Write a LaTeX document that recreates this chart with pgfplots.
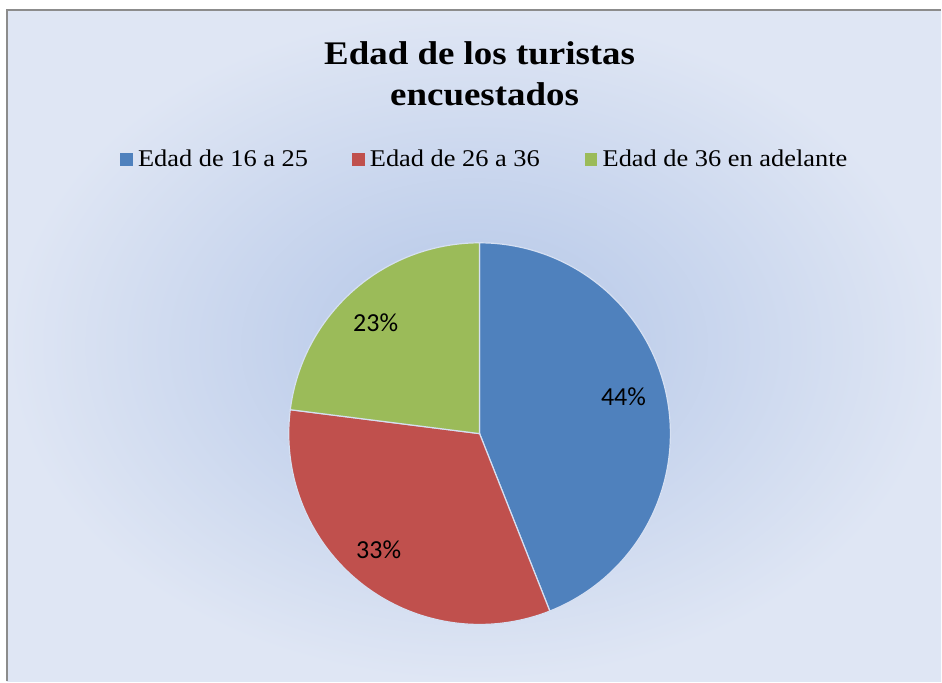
\documentclass[border=0pt]{standalone}
\usepackage{pgfplots}
\pgfplotsset{compat=1.18}
\usepackage{fontspec}
\setmainfont{Liberation Serif}
\newfontfamily\calibri{Carlito}

\definecolor{pblue}{RGB}{79,129,189}
\definecolor{pred}{RGB}{192,80,77}
\definecolor{pgreen}{RGB}{155,187,89}
\definecolor{bgout}{RGB}{223,230,244}
\definecolor{bgin}{RGB}{178,197,231}
\definecolor{edge}{RGB}{214,224,242}
\definecolor{framegray}{RGB}{140,140,140}

% pie data (percent)
\def\va{44}  % Edad de 16 a 25
\def\vb{33}  % Edad de 26 a 36
\def\vc{23}  % Edad de 36 en adelante
\def\cx{480}\def\cy{248}\def\rr{191}

\begin{document}
\begin{tikzpicture}
\pgfmathsetmacro\aA{90}
\pgfmathsetmacro\aB{90-3.6*\va}
\pgfmathsetmacro\aC{\aB-3.6*\vb}
\pgfmathsetmacro\aD{\aC-3.6*\vc}
\begin{axis}[
  scale only axis, width=942pt, height=682pt,
  xmin=0, xmax=942, ymin=0, ymax=682,
  hide axis, clip=false]
\fill[white] (axis cs:0,0) rectangle (axis cs:942,682);
\shade[inner color=bgin, outer color=bgout] (axis cs:7,0) rectangle (axis cs:942,672);
\draw[framegray, line width=1.6pt] (axis cs:7,0) -- (axis cs:7,672) -- (axis cs:942,672);

% title
\node[anchor=base, font=\fontsize{33}{40}\selectfont\bfseries\addfontfeature{FakeStretch=1.12}]
  at (axis cs:480,617) {Edad de los turistas};
\node[anchor=base, font=\fontsize{33}{40}\selectfont\bfseries\addfontfeature{FakeStretch=1.12}]
  at (axis cs:485,576) {encuestados};

% legend
\fill[pblue] (axis cs:120,516) rectangle (axis cs:133,529);
\node[anchor=base west, inner sep=0pt, font=\fontsize{24}{28}\selectfont\addfontfeature{FakeStretch=1.1}]
  at (axis cs:138,515) {Edad de 16 a 25};
\fill[pred] (axis cs:352,516) rectangle (axis cs:365,529);
\node[anchor=base west, inner sep=0pt, font=\fontsize{24}{28}\selectfont\addfontfeature{FakeStretch=1.1}]
  at (axis cs:370,515) {Edad de 26 a 36};
\fill[pgreen] (axis cs:585,516) rectangle (axis cs:598,529);
\node[anchor=base west, inner sep=0pt, font=\fontsize{24}{28}\selectfont\addfontfeature{FakeStretch=1.1}]
  at (axis cs:603,515) {Edad de 36 en adelante};

% wedges
\addplot[fill=pblue, draw=edge, line width=1.2pt, domain=\aB:\aA, samples=100, variable=\t]
  ({\cx+\rr*cos(\t)},{\cy+\rr*sin(\t)}) -- (axis cs:\cx,\cy) -- cycle;
\addplot[fill=pred, draw=edge, line width=1.2pt, domain=\aC:\aB, samples=100, variable=\t]
  ({\cx+\rr*cos(\t)},{\cy+\rr*sin(\t)}) -- (axis cs:\cx,\cy) -- cycle;
\addplot[fill=pgreen, draw=edge, line width=1.2pt, domain=\aD:\aC, samples=80, variable=\t]
  ({\cx+\rr*cos(\t)},{\cy+\rr*sin(\t)}) -- (axis cs:\cx,\cy) -- cycle;

% data labels
\node[font=\calibri\fontsize{26}{26}\selectfont] at (axis cs:624,285) {\va\%};
\node[font=\calibri\fontsize{26}{26}\selectfont] at (axis cs:379,132) {\vb\%};
\node[font=\calibri\fontsize{26}{26}\selectfont] at (axis cs:376,359) {\vc\%};
\end{axis}
\end{tikzpicture}
\end{document}
